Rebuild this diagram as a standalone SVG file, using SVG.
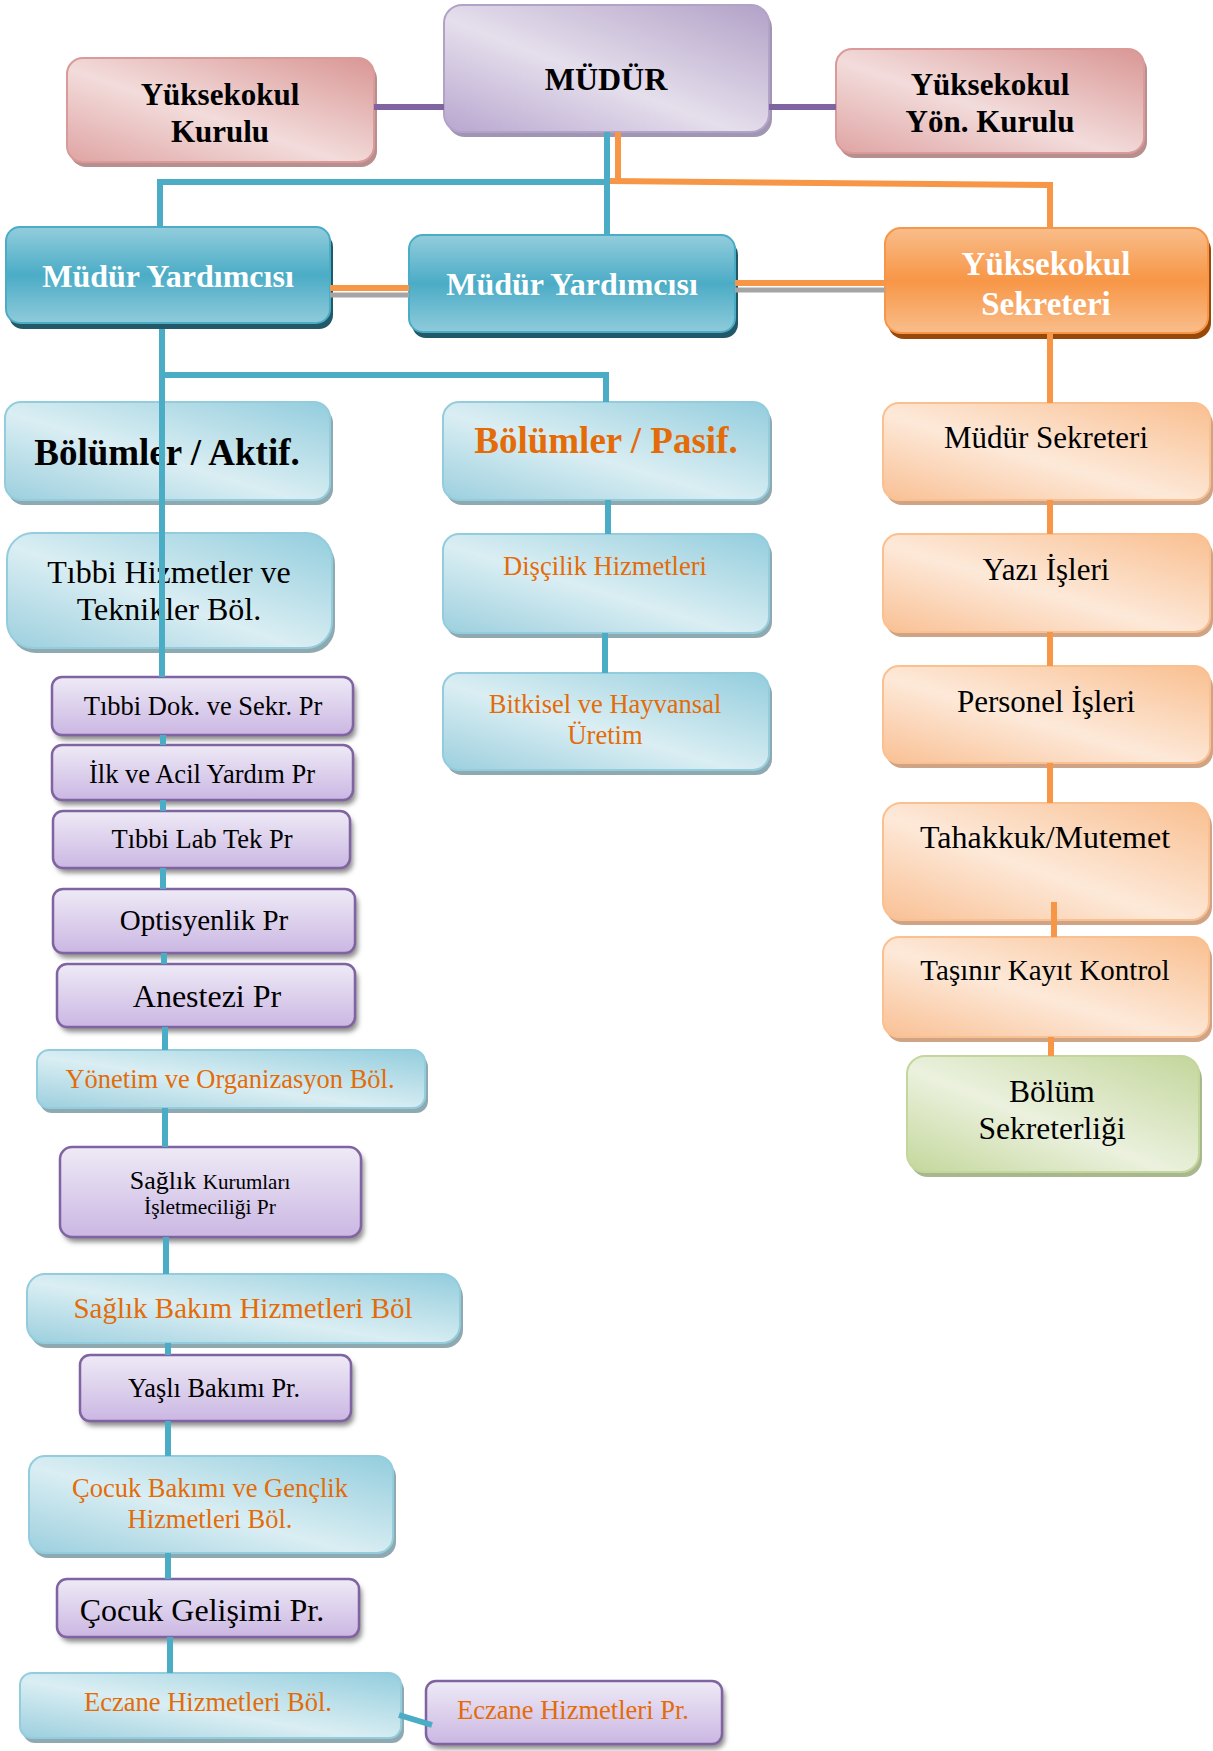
<svg xmlns="http://www.w3.org/2000/svg" width="1213" height="1751" viewBox="0 0 1213 1751">
<style>
text{font-family:"Liberation Serif","Times New Roman",serif;text-anchor:middle}
.b{font-weight:bold}
.w{fill:#ffffff}
.k{fill:#000000}
.o{fill:#E36C09}
.pink{fill:url(#gPink);stroke:#D99A99;stroke-width:2}
.mud{fill:url(#gMud);stroke:#B3A2C7;stroke-width:2}
.teal{fill:url(#gTeal);stroke:#4BACC6;stroke-width:2}
.lb{fill:url(#gLB);stroke:#93CDDD;stroke-width:2}
.or{fill:url(#gOr);stroke:#F79646;stroke-width:2}
.lo{fill:url(#gLO);stroke:#FAC090;stroke-width:2}
.pu{fill:url(#gPu);stroke:#8064A2;stroke-width:2.5}
.gr{fill:url(#gGr);stroke:#C3D69B;stroke-width:2}
.shPink{fill:#B88F8F}
.shMud{fill:#A095B3}
.shTeal{fill:#215968}
.shLB{fill:#8FA9B1}
.shOr{fill:#984807}
.shLO{fill:#CFA486}
.shPu{fill:#8C8C8C;filter:url(#blur)}
.shGr{fill:#A9B78E}
.cb{stroke:#4BACC6;stroke-width:6;fill:none}
.co{stroke:#F79646;stroke-width:6;fill:none}
.cp{stroke:#8064A2;stroke-width:6;fill:none}
.cg{stroke:#A5A5A5;stroke-width:5;fill:none}
</style>
<defs>
<filter id="blur" x="-10%" y="-20%" width="120%" height="140%"><feGaussianBlur stdDeviation="2.5"/></filter>
<linearGradient id="gPink" x1="0" y1="1" x2="1" y2="0"><stop offset="0" stop-color="#DFA4A3"/><stop offset="0.45" stop-color="#F2DCDB"/><stop offset="1" stop-color="#D99694"/></linearGradient>
<linearGradient id="gMud" x1="0" y1="1" x2="1" y2="0"><stop offset="0" stop-color="#B8A6CF"/><stop offset="0.45" stop-color="#E5DFEC"/><stop offset="1" stop-color="#B2A1C7"/></linearGradient>
<linearGradient id="gTeal" x1="0" y1="0" x2="0" y2="1"><stop offset="0" stop-color="#93CDDD"/><stop offset="0.5" stop-color="#4BACC6"/><stop offset="1" stop-color="#8FCBDB"/></linearGradient>
<linearGradient id="gLB" x1="0" y1="1" x2="1" y2="0"><stop offset="0" stop-color="#9CCFDE"/><stop offset="0.45" stop-color="#DAEEF3"/><stop offset="1" stop-color="#93CDDD"/></linearGradient>
<linearGradient id="gOr" x1="0" y1="0" x2="0" y2="1"><stop offset="0" stop-color="#F9BD8B"/><stop offset="0.5" stop-color="#F79646"/><stop offset="1" stop-color="#F9BD8B"/></linearGradient>
<linearGradient id="gLO" x1="0" y1="1" x2="1" y2="0"><stop offset="0" stop-color="#F9C094"/><stop offset="0.45" stop-color="#FDE9D9"/><stop offset="1" stop-color="#F9BF90"/></linearGradient>
<linearGradient id="gPu" x1="0" y1="0" x2="0" y2="1"><stop offset="0" stop-color="#EEEAF6"/><stop offset="1" stop-color="#CBB7E3"/></linearGradient>
<linearGradient id="gGr" x1="0" y1="1" x2="1" y2="0"><stop offset="0" stop-color="#C4D79B"/><stop offset="0.45" stop-color="#EBF1DE"/><stop offset="1" stop-color="#C3D69B"/></linearGradient>
</defs>
<rect width="1213" height="1751" fill="#ffffff"/>

<g id="nodes">
<g id="mudur"><rect class="shMud" x="447" y="10" width="325" height="127" rx="18"/><rect class="mud" x="444" y="5" width="325" height="127" rx="18"/><text class="b k" x="606" y="90" font-size="32">MÜDÜR</text></g>
<g id="yuksekokul-kurulu"><rect class="shPink" x="70" y="63" width="307" height="104" rx="16"/><rect class="pink" x="67" y="58" width="307" height="104" rx="16"/><text class="b k" x="220" y="105" font-size="31">Yüksekokul</text><text class="b k" x="220" y="142" font-size="31">Kurulu</text></g>
<g id="yonetim-kurulu"><rect class="shPink" x="839" y="54" width="308" height="104" rx="16"/><rect class="pink" x="836" y="49" width="308" height="104" rx="16"/><text class="b k" x="990" y="95" font-size="31">Yüksekokul</text><text class="b k" x="990" y="132" font-size="31">Yön. Kurulu</text></g>
<g id="mudur-yrd-1"><rect class="shTeal" x="9" y="233" width="324" height="96" rx="14"/><rect class="teal" x="6" y="227" width="324" height="96" rx="14"/><text class="b w" x="168" y="287" font-size="32">Müdür Yardımcısı</text></g>
<g id="mudur-yrd-2"><rect class="shTeal" x="412" y="241" width="326" height="97" rx="14"/><rect class="teal" x="409" y="235" width="326" height="97" rx="14"/><text class="b w" x="572" y="295" font-size="32">Müdür Yardımcısı</text></g>
<g id="yuksekokul-sekreteri"><rect class="shOr" x="888" y="234" width="323" height="105" rx="16"/><rect class="or" x="885" y="228" width="323" height="105" rx="16"/><text class="b w" x="1046" y="275" font-size="33">Yüksekokul</text><text class="b w" x="1046" y="315" font-size="33">Sekreteri</text></g>

<g id="bolumler-aktif"><rect class="shLB" x="8" y="407" width="325" height="98" rx="16"/><rect class="lb" x="5" y="402" width="325" height="98" rx="16"/><text class="b k" x="167" y="465" font-size="37">Bölümler / Aktif.</text></g>
<g id="bolumler-pasif"><rect class="shLB" x="446" y="407" width="326" height="98" rx="16"/><rect class="lb" x="443" y="402" width="326" height="98" rx="16"/><text class="b o" x="606" y="453" font-size="37">Bölümler / Pasif.</text></g>
<g id="tibbi-hizmetler"><rect class="shLB" x="10" y="538" width="325" height="115" rx="26"/><rect class="lb" x="7" y="533" width="325" height="115" rx="26"/><text class="k" x="169" y="583" font-size="32">Tıbbi Hizmetler ve</text><text class="k" x="169" y="620" font-size="32">Teknikler Böl.</text></g>
<g id="discilik"><rect class="shLB" x="446" y="539" width="326" height="99" rx="16"/><rect class="lb" x="443" y="534" width="326" height="99" rx="16"/><text class="o" x="605" y="575" font-size="26.5">Dişçilik Hizmetleri</text></g>
<g id="bitkisel"><rect class="shLB" x="446" y="678" width="326" height="97" rx="16"/><rect class="lb" x="443" y="673" width="326" height="97" rx="16"/><text class="o" x="605" y="713" font-size="26.5">Bitkisel ve Hayvansal</text><text class="o" x="605" y="744" font-size="26.5">Üretim</text></g>

<g id="mudur-sekreteri"><rect class="shLO" x="886" y="408" width="327" height="97" rx="16"/><rect class="lo" x="883" y="403" width="327" height="97" rx="16"/><text class="k" x="1046" y="448" font-size="31">Müdür Sekreteri</text></g>
<g id="yazi-isleri"><rect class="shLO" x="886" y="539" width="327" height="98" rx="16"/><rect class="lo" x="883" y="534" width="327" height="98" rx="16"/><text class="k" x="1046" y="580" font-size="31">Yazı İşleri</text></g>
<g id="personel-isleri"><rect class="shLO" x="886" y="671" width="327" height="97" rx="16"/><rect class="lo" x="883" y="666" width="327" height="97" rx="16"/><text class="k" x="1046" y="712" font-size="31">Personel İşleri</text></g>
<g id="tahakkuk"><rect class="shLO" x="886" y="808" width="326" height="117" rx="18"/><rect class="lo" x="883" y="803" width="326" height="117" rx="18"/><text class="k" x="1045" y="848" font-size="32">Tahakkuk/Mutemet</text></g>
<g id="tasinir"><rect class="shLO" x="886" y="942" width="326" height="100" rx="16"/><rect class="lo" x="883" y="937" width="326" height="100" rx="16"/><text class="k" x="1045" y="980" font-size="29">Taşınır Kayıt Kontrol</text></g>
<g id="bolum-sekreterligi"><rect class="shGr" x="910" y="1061" width="292" height="116" rx="18"/><rect class="gr" x="907" y="1056" width="292" height="116" rx="18"/><text class="k" x="1052" y="1102" font-size="31.5">Bölüm</text><text class="k" x="1052" y="1139" font-size="31.5">Sekreterliği</text></g>

<g id="tibbi-dok"><rect class="shPu" x="55" y="682" width="301" height="58" rx="10"/><rect class="pu" x="52" y="677" width="301" height="58" rx="10"/><text class="k" x="203" y="715" font-size="26.5">Tıbbi Dok. ve Sekr. Pr</text></g>
<g id="ilk-acil"><rect class="shPu" x="55" y="750" width="301" height="55" rx="10"/><rect class="pu" x="52" y="745" width="301" height="55" rx="10"/><text class="k" x="202" y="783" font-size="26.5">İlk ve Acil Yardım Pr</text></g>
<g id="tibbi-lab"><rect class="shPu" x="56" y="816" width="297" height="57" rx="10"/><rect class="pu" x="53" y="811" width="297" height="57" rx="10"/><text class="k" x="202" y="848" font-size="26.5">Tıbbi Lab Tek Pr</text></g>
<g id="optisyenlik"><rect class="shPu" x="56" y="894" width="302" height="64" rx="10"/><rect class="pu" x="53" y="889" width="302" height="64" rx="10"/><text class="k" x="204" y="930" font-size="29">Optisyenlik Pr</text></g>
<g id="anestezi"><rect class="shPu" x="60" y="969" width="298" height="63" rx="10"/><rect class="pu" x="57" y="964" width="298" height="63" rx="10"/><text class="k" x="207" y="1007" font-size="32">Anestezi Pr</text></g>
<g id="yonetim-org"><rect class="shLB" x="40" y="1055" width="388" height="58" rx="12"/><rect class="lb" x="37" y="1050" width="388" height="58" rx="12"/><text class="o" x="230" y="1088" font-size="26.5">Yönetim ve Organizasyon Böl.</text></g>
<g id="saglik-kurumlari"><rect class="shPu" x="63" y="1152" width="301" height="90" rx="12"/><rect class="pu" x="60" y="1147" width="301" height="90" rx="12"/><text class="k" x="210" y="1189"><tspan font-size="26">Sağlık </tspan><tspan font-size="21">Kurumları</tspan></text><text class="k" x="210" y="1214" font-size="21.5">İşletmeciliği Pr</text></g>
<g id="saglik-bakim"><rect class="shLB" x="30" y="1279" width="433" height="69" rx="18"/><rect class="lb" x="27" y="1274" width="433" height="69" rx="18"/><text class="o" x="243" y="1318" font-size="29">Sağlık Bakım Hizmetleri Böl</text></g>
<g id="yasli-bakimi"><rect class="shPu" x="83" y="1360" width="271" height="66" rx="10"/><rect class="pu" x="80" y="1355" width="271" height="66" rx="10"/><text class="k" x="214" y="1397" font-size="26.3">Yaşlı Bakımı Pr.</text></g>
<g id="cocuk-bakimi"><rect class="shLB" x="32" y="1461" width="364" height="97" rx="16"/><rect class="lb" x="29" y="1456" width="364" height="97" rx="16"/><text class="o" x="210" y="1497" font-size="26.5">Çocuk Bakımı ve Gençlik</text><text class="o" x="210" y="1528" font-size="26.5">Hizmetleri Böl.</text></g>
<g id="cocuk-gelisimi"><rect class="shPu" x="60" y="1584" width="302" height="58" rx="10"/><rect class="pu" x="57" y="1579" width="302" height="58" rx="10"/><text class="k" x="202" y="1621" font-size="32">Çocuk Gelişimi Pr.</text></g>
<g id="eczane-bol"><rect class="shLB" x="23" y="1678" width="381" height="65" rx="12"/><rect class="lb" x="20" y="1673" width="381" height="65" rx="12"/><text class="o" x="208" y="1711" font-size="26.5">Eczane Hizmetleri Böl.</text></g>
<g id="eczane-pr"><rect class="shPu" x="429" y="1686" width="296" height="63" rx="10"/><rect class="pu" x="426" y="1681" width="296" height="63" rx="10"/><text class="o" x="573" y="1719" font-size="26.5">Eczane Hizmetleri Pr.</text></g>
</g>

<g id="connectors">
<line class="cp" x1="374" y1="107" x2="444" y2="107"/>
<line class="cp" x1="769" y1="107" x2="836" y2="107"/>
<polyline class="co" points="618,132 618,181"/>
<polyline class="co" points="609,181 1050,185 1050,228"/>
<polyline class="cb" points="607,132 607,235"/>
<polyline class="cb" points="160,227 160,182 607,182"/>
<line class="cg" x1="330" y1="295" x2="409" y2="295"/>
<line class="co" x1="330" y1="288" x2="409" y2="288"/>
<line class="cg" x1="735" y1="290" x2="885" y2="290"/>
<line class="co" x1="735" y1="283" x2="885" y2="283"/>
<line class="cb" x1="162" y1="329" x2="162" y2="677"/>
<polyline class="cb" points="162,375 606,375 606,402"/>
<line class="cb" x1="608" y1="500" x2="608" y2="534"/>
<line class="cb" x1="605" y1="633" x2="605" y2="673"/>
<line class="co" x1="1050" y1="333" x2="1050" y2="403"/>
<line class="co" x1="1050" y1="500" x2="1050" y2="534"/>
<line class="co" x1="1050" y1="632" x2="1050" y2="666"/>
<line class="co" x1="1050" y1="763" x2="1050" y2="803"/>
<line class="co" x1="1054" y1="902" x2="1054" y2="937"/>
<line class="co" x1="1051" y1="1037" x2="1051" y2="1056"/>
<line class="cb" x1="163" y1="735" x2="163" y2="745"/>
<line class="cb" x1="163" y1="800" x2="163" y2="811"/>
<line class="cb" x1="163" y1="868" x2="163" y2="889"/>
<line class="cb" x1="164" y1="953" x2="164" y2="964"/>
<line class="cb" x1="165" y1="1027" x2="165" y2="1050"/>
<line class="cb" x1="165" y1="1108" x2="165" y2="1147"/>
<line class="cb" x1="166" y1="1237" x2="166" y2="1274"/>
<line class="cb" x1="168" y1="1343" x2="168" y2="1355"/>
<line class="cb" x1="168" y1="1421" x2="168" y2="1456"/>
<line class="cb" x1="168" y1="1553" x2="168" y2="1579"/>
<line class="cb" x1="170" y1="1637" x2="170" y2="1673"/>
<line class="cb" x1="399" y1="1715" x2="432" y2="1725"/>
</g>
</svg>
